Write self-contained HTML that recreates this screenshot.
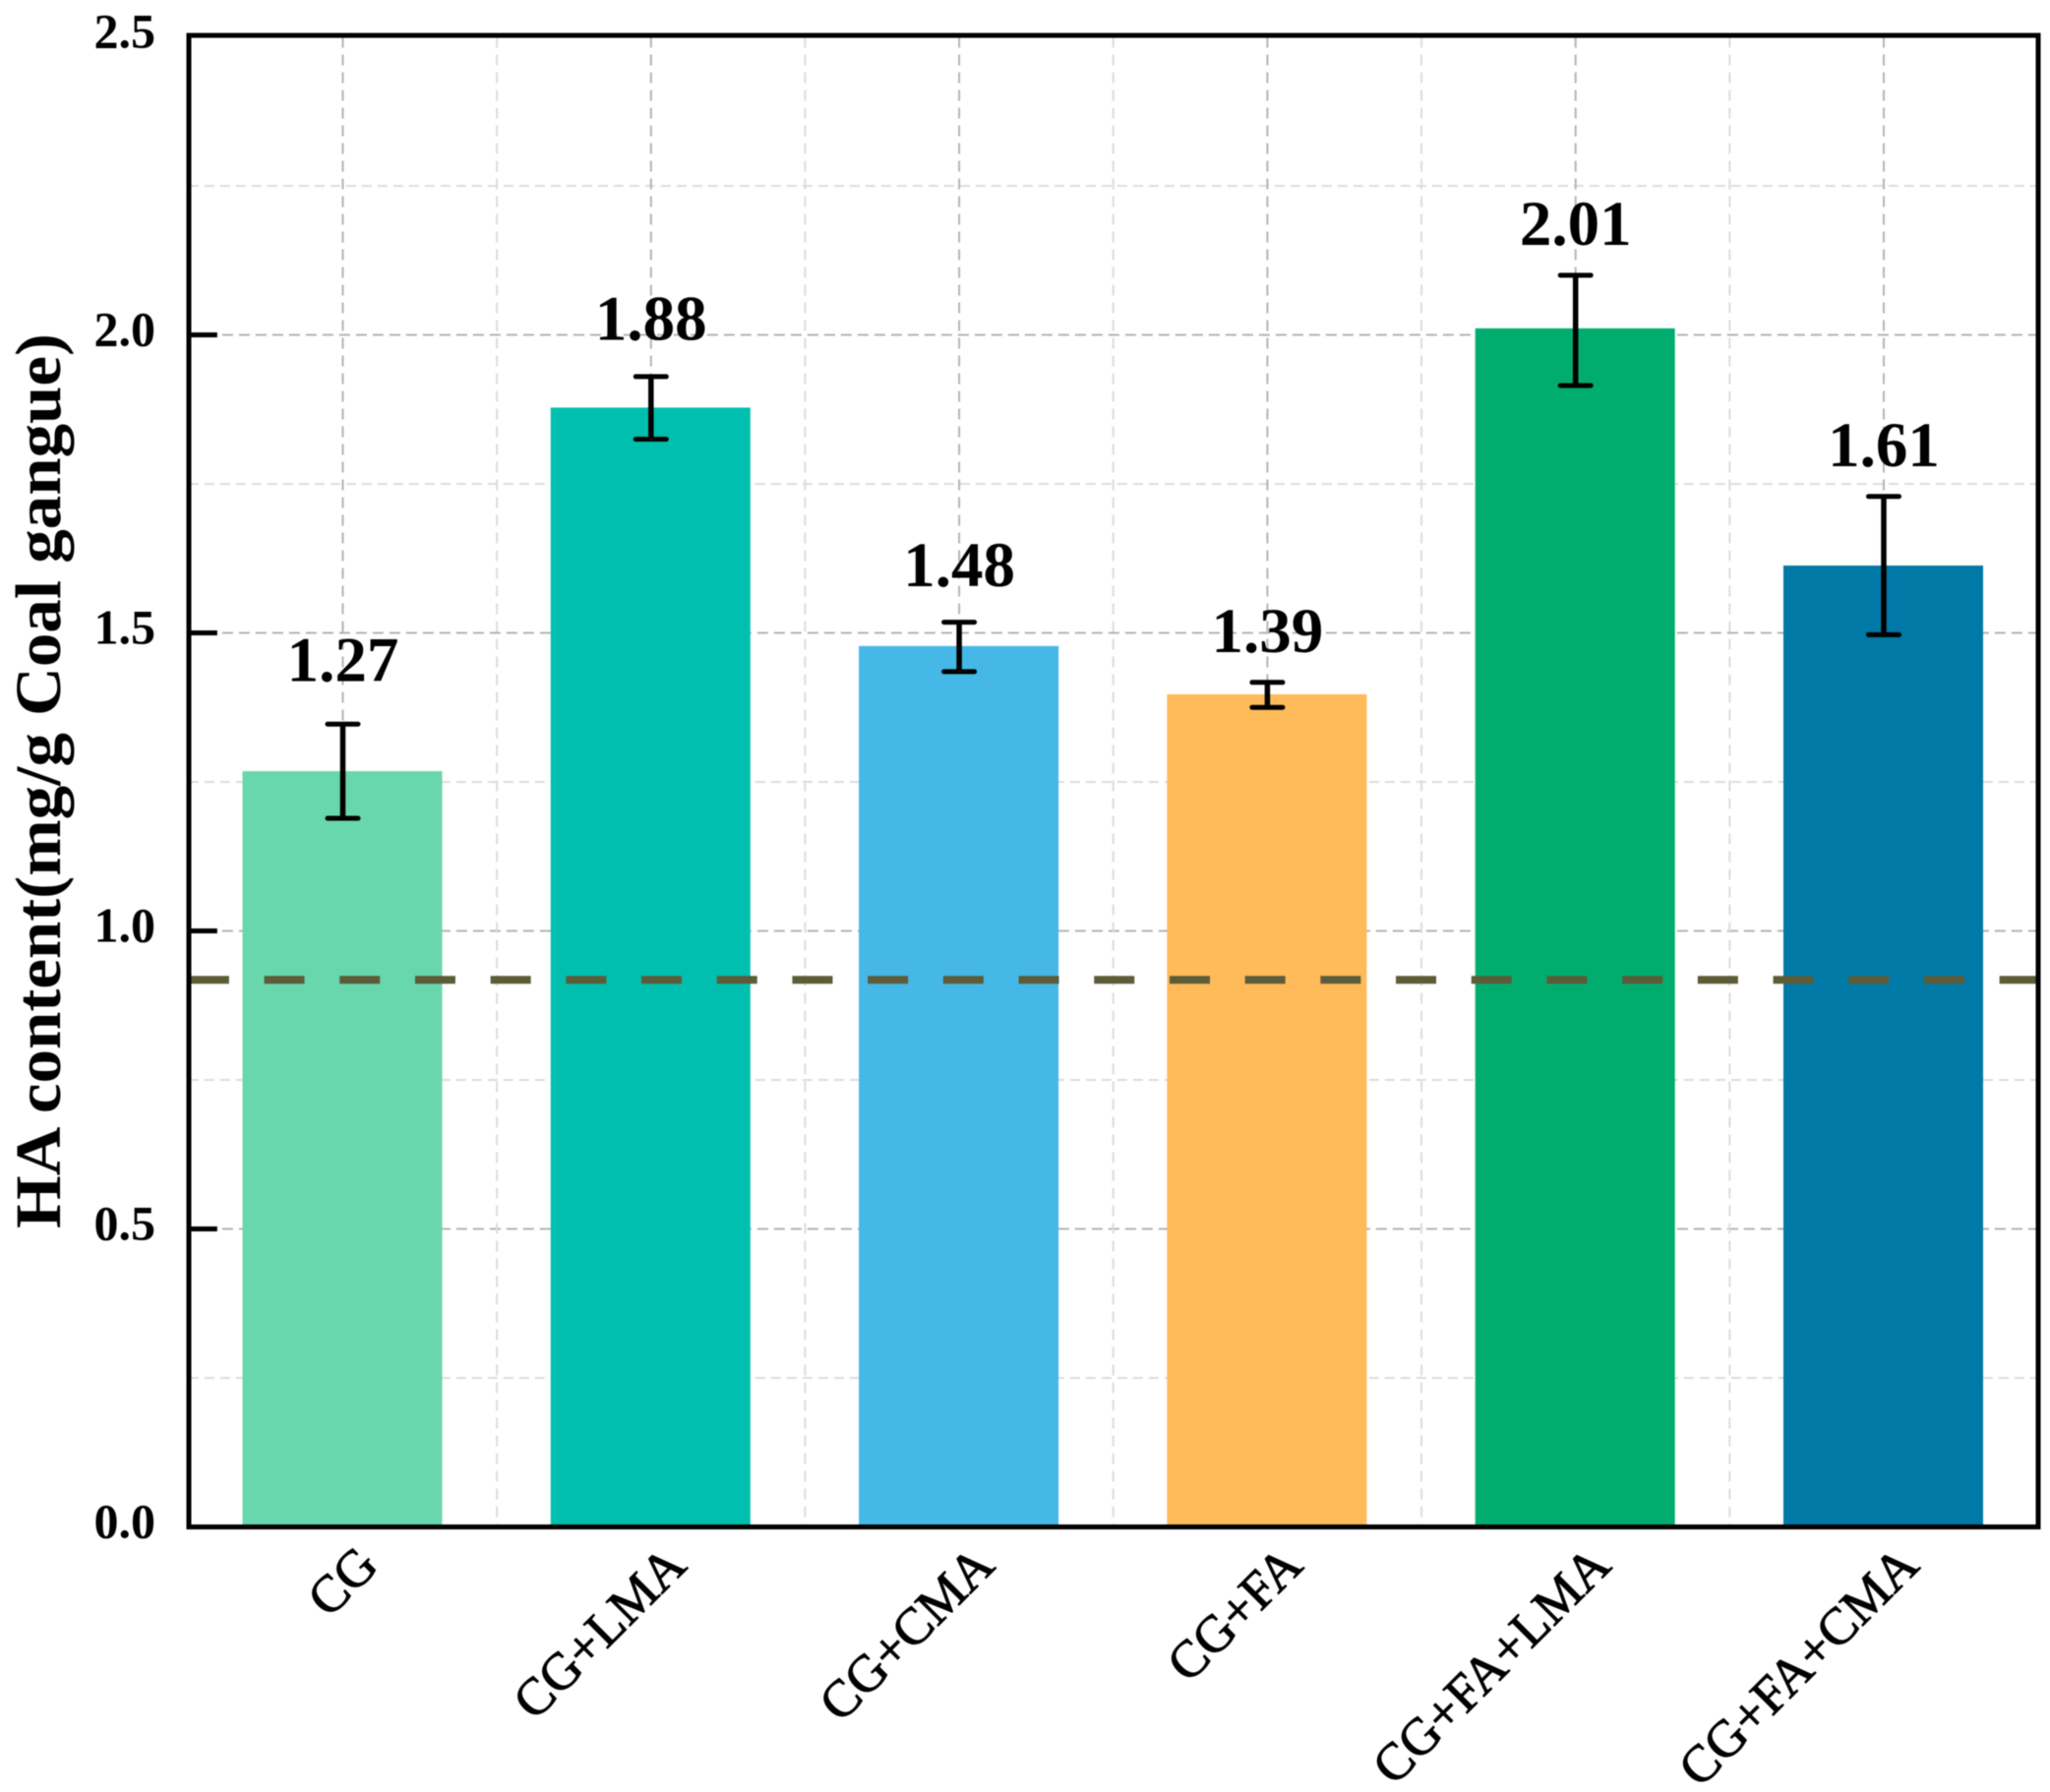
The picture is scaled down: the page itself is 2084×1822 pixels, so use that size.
<!DOCTYPE html>
<html lang="en">
<head>
<meta charset="utf-8">
<title>HA content chart</title>
<style>
html,body{margin:0;padding:0;background:#fff;}
svg{display:block;font-family:"Liberation Serif",serif;filter:blur(0.6px);}
</style>
</head>
<body>
<svg id="chart" xmlns="http://www.w3.org/2000/svg" width="2084" height="1822" viewBox="0 0 2084 1822">
  <rect x="0" y="0" width="2084" height="1822" fill="#ffffff"></rect>
  <g id="grid"></g>
  <g id="bars"></g>
  <g id="reference"></g>
  <g id="errors"></g>
  <g id="labels"></g>
  <rect x="192" y="36" width="1880" height="1516.5" fill="none" stroke="#000000" stroke-width="5"></rect>
  <g id="yaxis"></g>
  <g id="xaxis"></g>
  <text transform="translate(61,794) rotate(-90)" text-anchor="middle" font-size="66" font-weight="700" textLength="910" lengthAdjust="spacingAndGlyphs">HA content(mg/g Coal gangue)</text>
</svg>
<script>
const categories = ['CG', 'CG+LMA', 'CG+CMA', 'CG+FA', 'CG+FA+LMA', 'CG+FA+CMA'];
const values = [1.268, 1.878, 1.478, 1.397, 2.011, 1.613];
const errorUp = [1.347, 1.93, 1.518, 1.417, 2.1, 1.729];
const errorDown = [1.189, 1.825, 1.435, 1.375, 1.915, 1.497];
const printedValues = ['1.27', '1.88', '1.48', '1.39', '2.01', '1.61'];
const labelLift = [0.072, 0.062, 0.06, 0.051, 0.051, 0.051];
const barColors = ['#68D7AD', '#00BFAE', '#45B8E8', '#FFBA5A', '#00AD6E', '#0079A6'];
const yMajorTicks = ['0.0', '0.5', '1.0', '1.5', '2.0', '2.5'];
const yMinorTicks = [0.25, 0.75, 1.25, 1.75, 2.25];
const referenceValue = 0.918;

const NS = 'http://www.w3.org/2000/svg';
function xScale(i) { return 348.5 + 313.3 * i; }
function yScale(v) { return 1552.5 - 606 * v; }
function mk(parent, tag, attrs) {
  const el = document.createElementNS(NS, tag);
  for (const k in attrs) el.setAttribute(k, attrs[k]);
  parent.appendChild(el);
  return el;
}
const gridG = document.getElementById('grid');
const barsG = document.getElementById('bars');
const refG = document.getElementById('reference');
const errG = document.getElementById('errors');
const labG = document.getElementById('labels');
const yG = document.getElementById('yaxis');
const xG = document.getElementById('xaxis');
const frameL = xScale(-0.5), frameR = xScale(5.5), frameT = yScale(2.5), frameB = yScale(0);

yMinorTicks.forEach(function (v) {
  const l = mk(gridG, 'line', {x1: frameL, x2: frameR, y1: yScale(v), y2: yScale(v), stroke: '#dcdcdc', 'stroke-width': 2, 'stroke-dasharray': '10 6'});
  
  
});
yMajorTicks.forEach(function (t) {
  const v = parseFloat(t);
  if (v > 0 && v < 2.5) {
    const l = mk(gridG, 'line', {x1: frameL, x2: frameR, y1: yScale(v), y2: yScale(v), stroke: '#b4b4b4', 'stroke-width': 2, 'stroke-dasharray': '11 6'});
    
    
    const tick = mk(yG, 'line', {x1: frameL, x2: frameL + 29, y1: yScale(v), y2: yScale(v), stroke: '#000', 'stroke-width': 5});
    
    
  }
  const txt = mk(yG, 'text', {x: 158, y: yScale(v) + 11, 'text-anchor': 'end', 'font-size': 50, 'font-weight': 700});
  txt.textContent = t;
  
  
});
categories.forEach(function (c, i) {
  const cx = xScale(i);
  const g1 = mk(gridG, 'line', {x1: cx, x2: cx, y1: frameT, y2: frameB, stroke: '#b4b4b4', 'stroke-width': 2, 'stroke-dasharray': '11 7'});
  
  
  if (i < categories.length - 1) {
    const mx = xScale(i + 0.5);
    const g2 = mk(gridG, 'line', {x1: mx, x2: mx, y1: frameT, y2: frameB, stroke: '#dcdcdc', 'stroke-width': 2, 'stroke-dasharray': '11 7'});
    
    
  }
  const w = 203;
  const bar = mk(barsG, 'rect', {x: cx - w / 2 - 0.5, y: yScale(values[i]), width: w, height: frameB - yScale(values[i]), fill: barColors[i]});
  
  

  const eg = mk(errG, 'g', {stroke: '#000', 'stroke-linecap': 'round', fill: 'none'});
  
  
  mk(eg, 'line', {x1: cx, x2: cx, y1: yScale(errorUp[i]), y2: yScale(errorDown[i]), 'stroke-width': 5.5, 'stroke-linecap': 'butt'});
  mk(eg, 'line', {x1: cx - 15.5, x2: cx + 15.5, y1: yScale(errorUp[i]), y2: yScale(errorUp[i]), 'stroke-width': 5});
  mk(eg, 'line', {x1: cx - 15.5, x2: cx + 15.5, y1: yScale(errorDown[i]), y2: yScale(errorDown[i]), 'stroke-width': 5});

  const lab = mk(labG, 'text', {x: cx, y: yScale(errorUp[i] + labelLift[i]), 'text-anchor': 'middle', 'font-size': 65, 'font-weight': 700});
  lab.textContent = printedValues[i];
  
  

  const tl = mk(xG, 'text', {transform: 'translate(' + (cx + 38) + ',1594) rotate(-45)', 'text-anchor': 'end', 'font-size': 53, 'font-weight': 400, stroke: '#000', 'stroke-width': 1});
  tl.textContent = c;
  
  
});
const ref = mk(refG, 'line', {x1: frameL, x2: frameR, y1: yScale(referenceValue), y2: yScale(referenceValue), stroke: '#5C5C38', 'stroke-width': 8, 'stroke-dasharray': '41 35.7'});


</script>
</body>
</html>
